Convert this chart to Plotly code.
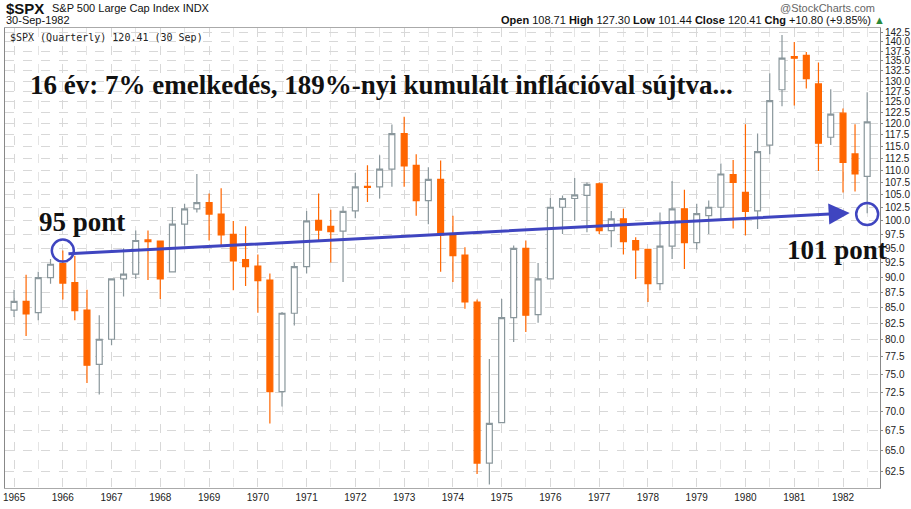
import math
from datetime import date

import plotly.graph_objects as go

# ---------------------------------------------------------------------------
# Quarterly S&P 500 candles, 1965 Q1 .. 1982 Q3
# ---------------------------------------------------------------------------
OPEN = [84.6, 86.0, 84.2, 89.9, 92.3, 89.1, 84.6, 76.4, 80.1, 89.7, 90.5, 96.5,
        96.3, 90.9, 99.4, 102.3, 103.5, 101.3, 97.5, 93.0, 91.9, 89.5, 72.6, 84.1,
        91.8, 100.1, 99.0, 98.1, 101.9, 106.7, 106.6, 110.2, 117.8, 111.0, 103.9, 108.1,
        97.4, 93.8, 85.9, 63.5, 68.5, 83.4, 95.0, 83.9, 89.7, 102.6, 104.3, 104.9,
        107.2, 98.2, 100.4, 96.4, 94.8, 88.9, 95.4, 102.3, 96.0, 101.0, 102.6, 109.1,
        105.5, 101.9, 115.3, 127.9, 136.1, 136.4, 129.3, 117.0, 122.4, 113.4, 108.71]
HIGH = [87.9, 90.4, 90.9, 93.1, 94.6, 93.7, 87.9, 83.8, 89.8, 95.0, 98.2, 98.2,
        96.4, 102.6, 103.3, 109.2, 105.3, 106.3, 100.0, 99.0, 93.9, 90.6, 84.3, 92.5,
        101.9, 105.3, 102.1, 102.8, 109.4, 111.0, 113.1, 119.8, 121.6, 113.3, 110.6, 112.0,
        101.0, 95.2, 86.3, 77.2, 86.4, 95.5, 96.4, 92.4, 104.4, 104.9, 108.4, 107.5,
        107.5, 101.9, 102.3, 97.0, 94.8, 101.6, 107.8, 106.0, 103.3, 103.9, 111.4, 112.1,
        119.9, 117.8, 131.9, 141.7, 139.9, 137.3, 134.6, 128.0, 123.5, 119.9, 127.30]
LOW = [83.5, 80.6, 83.0, 88.9, 86.3, 83.0, 73.8, 72.2, 79.2, 86.8, 89.7, 89.5,
       86.4, 90.9, 95.5, 101.6, 96.4, 95.5, 87.8, 88.5, 84.2, 68.4, 70.6, 82.2,
       90.6, 96.5, 92.5, 89.2, 100.5, 103.6, 104.3, 106.6, 106.6, 101.0, 99.4, 90.9,
       89.2, 84.8, 62.2, 61.0, 68.5, 79.7, 81.2, 82.6, 89.7, 97.6, 100.0, 97.9,
       97.6, 95.2, 93.9, 89.7, 85.9, 87.8, 93.1, 91.4, 94.8, 97.6, 100.0, 98.6,
       97.3, 98.5, 113.3, 124.0, 124.2, 128.2, 109.8, 115.3, 105.5, 105.7, 101.44]
CLOSE = [86.0, 84.0, 89.9, 92.2, 89.0, 84.5, 76.3, 80.1, 89.7, 90.5, 96.4, 96.2,
         89.7, 99.4, 102.3, 103.5, 101.3, 97.4, 92.8, 91.8, 89.4, 72.6, 84.1, 91.8,
         100.0, 98.3, 98.0, 101.8, 106.6, 106.5, 110.2, 117.8, 110.9, 103.9, 108.1, 97.4,
         93.7, 85.9, 63.5, 68.4, 83.4, 95.0, 83.8, 89.7, 102.6, 104.3, 105.0, 107.1,
         98.2, 100.4, 96.2, 94.7, 88.9, 95.4, 102.3, 96.0, 101.4, 102.6, 109.2, 107.5,
         101.8, 113.9, 125.3, 135.7, 135.7, 130.6, 115.7, 122.2, 111.6, 109.2, 120.41]

QUARTERS = [date(1965 + i // 4, 1 + 3 * (i % 4), 1) for i in range(len(OPEN))]
YEARS = list(range(1965, 1983))
Y_TICKS = [62.5 + 2.5 * i for i in range(33)]

START_PT = ("1966-02-01", 94.0)
END_PT = ("1982-02-20", 101.5)
CIRCLE_X = ["1966-01-01", "1982-07-01"]
CIRCLE_Y = [94.6, 101.3]

ORANGE = "#ff6600"
GREY = "#8a979c"
BLUE = "#3f45c0"

fig = go.Figure()

fig.add_trace(go.Candlestick(
    x=QUARTERS, open=OPEN, high=HIGH, low=LOW, close=CLOSE,
    increasing=dict(line=dict(color=GREY, width=1.2), fillcolor="white"),
    decreasing=dict(line=dict(color=ORANGE, width=1.2), fillcolor=ORANGE),
    whiskerwidth=0, showlegend=False, hoverinfo="skip",
))

# circles around start / end points
fig.add_trace(go.Scatter(
    x=CIRCLE_X, y=CIRCLE_Y, mode="markers",
    marker=dict(symbol="circle-open", size=22, color=BLUE, line=dict(width=2.5)),
    showlegend=False, hoverinfo="skip",
))

# trend arrow 95 -> 101
fig.add_annotation(
    x=END_PT[0], y=math.log10(END_PT[1]),
    ax=START_PT[0], ay=math.log10(START_PT[1]),
    xref="x", yref="y", axref="x", ayref="y",
    showarrow=True, arrowhead=2, arrowsize=1.4, arrowwidth=3, arrowcolor=BLUE,
    text="",
)

SERIF = "Liberation Serif, Times New Roman, serif"
W, H = 875.0, 460.0


def px(x):
    return (x - 5) / W


def py(y):
    return 1 - (y - 28) / H


big = dict(family=SERIF, size=27, color="#111")
fig.add_annotation(x=px(28), y=py(85), xref="paper", yref="paper", xanchor="left",
                   yanchor="middle", showarrow=False, font=big,
                   text="<b>16 év: 7% emelkedés, 189%-nyi kumulált inflációval sújtva...</b>")
fig.add_annotation(x=px(37), y=py(222), xref="paper", yref="paper", xanchor="left",
                   yanchor="middle", showarrow=False, font=big, text="<b>95 pont</b>")
fig.add_annotation(x=px(785), y=py(250), xref="paper", yref="paper", xanchor="left",
                   yanchor="middle", showarrow=False, font=big, text="<b>101 pont</b>")

# header
hdr = dict(family="Liberation Sans Narrow, Arial Narrow, Liberation Sans, sans-serif",
           size=11, color="#111")
fig.add_annotation(x=px(4), y=py(8), xref="paper", yref="paper", xanchor="left",
                   yanchor="middle", showarrow=False, text="<b>$SPX</b>",
                   font=dict(family=hdr["family"], size=15, color="#111"))
fig.add_annotation(x=px(50), y=py(8), xref="paper", yref="paper", xanchor="left",
                   yanchor="middle", showarrow=False,
                   text="S&P 500 Large Cap Index INDX", font=hdr)
fig.add_annotation(x=px(4), y=py(20), xref="paper", yref="paper", xanchor="left",
                   yanchor="middle", showarrow=False, text="30-Sep-1982", font=hdr)
fig.add_annotation(x=px(887), y=py(20), xref="paper", yref="paper", xanchor="right",
                   yanchor="middle", showarrow=False, font=hdr,
                   text="<b>Open</b> 108.71 <b>High</b> 127.30 <b>Low</b> 101.44 "
                        "<b>Close</b> 120.41 <b>Chg</b> +10.80 (+9.85%) "
                        "<span style='color:#2a8a3a'>▲</span>")
fig.add_annotation(x=px(877), y=py(8), xref="paper", yref="paper", xanchor="right",
                   yanchor="middle", showarrow=False, text="@StockCharts.com",
                   font=dict(family=hdr["family"], size=11, color="#666"))
fig.add_annotation(x=px(8), y=py(37), xref="paper", yref="paper", xanchor="left",
                   yanchor="middle", showarrow=False, text="$SPX (Quarterly) 120.41 (30 Sep)",
                   font=dict(family="DejaVu Sans Mono, monospace", size=10, color="#222"))

fig.update_xaxes(
    type="date", range=[date(1964, 10, 25), date(1982, 10, 5)], automargin=False,
    tickvals=[date(y, 1, 1) for y in YEARS], ticktext=[str(y) for y in YEARS],
    rangeslider_visible=False, showgrid=True, gridcolor="#d8d8d8", griddash="dash",
    tickfont=dict(size=10, color="#222"), ticks="", showline=True, linecolor="#aaa",
    mirror=True, zeroline=False,
    minor=dict(tickvals=[date(y, 7, 1) for y in YEARS], showgrid=True,
               gridcolor="#e4e4e4", griddash="dash"),
)
fig.update_yaxes(
    type="log", range=[math.log10(60.6), math.log10(143.6)], side="right",
    automargin=False,
    tickvals=Y_TICKS, ticktext=[f"{v:.1f}" for v in Y_TICKS],
    showgrid=True, gridcolor="#d8d8d8", griddash="dash",
    tickfont=dict(size=10, color="#222"), ticks="outside", ticklen=2,
    tickcolor="#888", showline=True, linecolor="#888", mirror=True, zeroline=False,
)

fig.update_layout(
    width=911, height=509,
    margin=dict(l=5, r=31, t=28, b=21),
    plot_bgcolor="white", paper_bgcolor="white",
    font=dict(family="Liberation Sans, Arial, sans-serif"),
)

fig.write_html("out.html", config={"displayModeBar": False},
               post_script="document.body.style.margin='0';")
